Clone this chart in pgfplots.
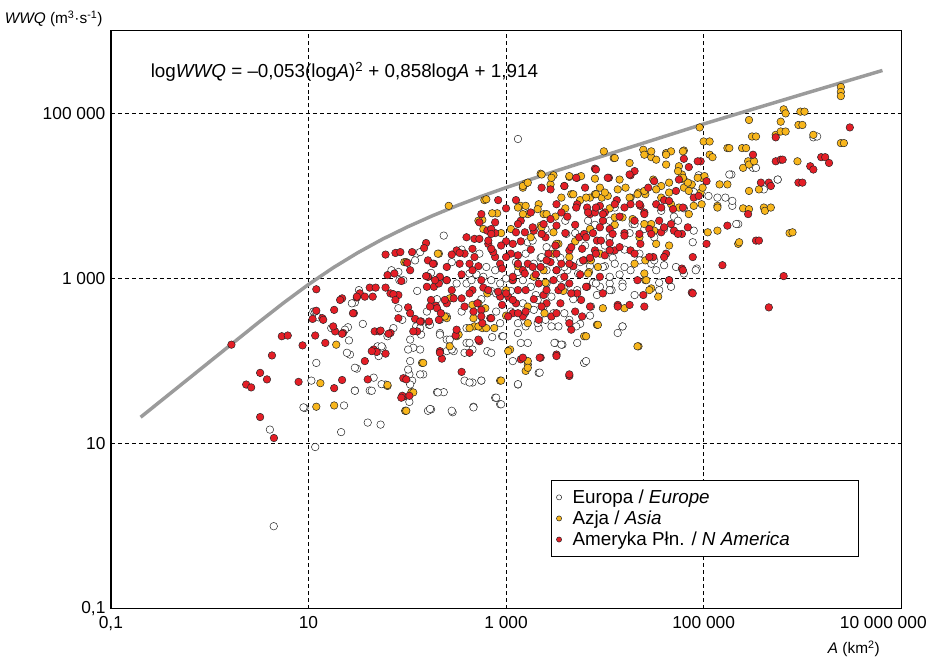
\documentclass[border=0pt]{standalone}
\usepackage{pgfplots}
\pgfplotsset{compat=1.18}
\usetikzlibrary{calc}
\usepackage{fontspec}
\setmainfont{Liberation Sans}
\definecolor{asia}{RGB}{248,182,28}
\definecolor{nam}{RGB}{228,30,38}
\definecolor{curvegray}{RGB}{155,155,155}
\begin{document}
\begin{tikzpicture}
\begin{axis}[name=ax, xmode=log, ymode=log, scale only axis,
  width=794.5bp, height=581bp,
  xmin=0.1, xmax=1e7, ymin=0.1, ymax=1e6,
  xtick={0.1,10,1000,100000,10000000},
  xticklabels={{0,1},10,{1 000},{100 000},{\hspace*{-36bp}10 000 000}},
  ytick={0.1,10,1000,100000},
  yticklabels={{0,1},10,{1 000},{100 000}},
  major tick length=0pt, minor tick length=0pt,
  xmajorgrids, ymajorgrids,
  major grid style={black, line width=0.8bp, dash pattern=on 4bp off 3bp},
  axis line style={line width=1.3bp},
  tick label style={font=\fontsize{17.5}{19}\selectfont},
  xticklabel style={yshift=-4bp},
  yticklabel style={xshift=-2bp},
  legend cell align=left,
  legend style={at={(0.557,0.222)}, anchor=north west, draw=black, line width=0.8bp,
    fill=white, font=\fontsize{19}{21}\selectfont, inner xsep=5bp, inner ysep=7bp, row sep=2bp},
  legend image post style={mark size=2.6bp},
]
\addplot[curvegray, line width=3.5bp, forget plot] coordinates {
(0.2,20.9) (0.631,63.1) (3.16,297) (5.62,509) (10,847) (17.8,1352) (31.6,2056) (56.2,3000) (100,4207) (178,5728) (316,7603) (562,9886) (1000,12620) (3162,20000) (10000,31050) (100000,74470) (1000000,170600) (6460000,331100)
};
% Europe
\addplot[only marks, mark=*, mark size=3.8bp, mark options={fill=white, draw=black!85, line width=0.5bp}] coordinates {
(4.07,14.8) (9.12,27) (10.7,58) (11.7,9.1) (4.45,1.0) (25.7,178) (26.3,120) (17,251) (25.1,257) (29.5,513) (32.4,724) (12,95) (30.9,81) (50.1,151) (56.2,145) (45.7,63) (41.7,44) (29.5,44) (22.9,29) (39.8,18) (53.7,17) (21.4,13.8) (60.3,52) (81.3,437) (83.2,955) (112,58) (105,32) (95.5,25) (81.3,1200) (11.2,398) (12.6,339) (234,3310) (123,2000) (174,1170) (209,955) (251,955) (316,871) (398,871) (537,2000) (631,1380) (776,1260) (871,871) (123,263) (138,209) (166,275) (214,219) (251,182) (295,132) (251,132) (398,166) (457,138) (646,132) (724,195) (871,288) (912,200) (115,145) (105,69) (145,69) (107,52) (174,26) (200,42) (234,42) (288,24) (380,58) (457,55) (562,58) (468,28) (776,36) (871,30) (162,25)
(1320,49000) (1660,2750) (1910,1510) (2570,1260) (3240,1260) (1320,1200) (1480,955) (2570,871) (3890,759) (5250,724) (8910,794) (11200,871) (11700,724) (1480,501) (1910,417) (2400,457) (3020,380) (3890,380) (4370,316) (3390,263) (1580,263) (1320,288) (2140,251) (1170,100) (1410,166) (3160,166) (3720,158) (5250,166) (6170,95) (13500,219) (15100,263) (2140,72) (1320,52) (15100,871) (18200,1260) (11200,3160) (12600,7240) (19100,4570)
(37200,6610) (79400,3800) (85100,1320) (63100,1150) (46800,794) (33100,1260) (29500,1510) (195000,7590) (224000,4570) (316000,21900) (1290000,51300) (562000,15800) (191000,18200) (166000,9550)
(1000,1000) (1120,708) (1260,1580) (1580,2000) (1780,794) (2000,631) (2240,1780) (2820,2240) (3550,1780) (3550,1000) (4170,1260) (4790,562) (5620,1580) (6310,2510) (7080,1410) (7590,891) (8320,631) (10000,1410) (10000,2510) (12000,1780) (14100,1120) (15800,2240) (17800,3550) (22400,2000) (25100,3980) (31600,3160) (39800,3980) (50100,5620) (63100,7080) (79400,11200) (112000,10000) (89100,17800) (5010,3550) (3980,5010) (2510,3980) (7940,4470) (501,1120) (708,708) (355,398) (562,562) (398,251) (794,398) (1120,398) (2510,316) (5620,282) (7080,355) (20000,631) (35500,891) (158,398) (200,562) (89,316) (63,200) (35.5,282) (126,708) (282,1580) (355,2240)
(135,2090) (120,1660) (91.2,955) (69.2,1260) (162,1050) (427,1150) (447,955) (589,1050) (708,955) (794,661) (214,316) (251,347) (170,275) (135,251) (72.4,251) (55,151) (51.3,115) (107,182) (102,138) (135,138) (214,209) (269,182) (282,138) (380,126) (427,166) (708,126) (933,200) (427,55) (562,58) (794,36) (891,30) (468,27.5) (282,25) (170,26.3) (204,41.7) (135,69) (102,79) (107,100) (43.7,43.7) (55,52.5) (29.5,43.7) (29.5,83) (24.5,126) (11.7,398) (23.4,240) (27.5,501) (8.9,27.5)
(1860,2880) (2570,2400) (4070,3470) (6760,5010) (11200,5010) (20000,4570) (55000,5010) (77600,2750) (138000,9550) (195000,8710) (214000,4570) (407000,12000) (562000,15800) (1410000,52500) (339000,21900) (182000,18200) (2290,1820) (3890,1380) (5370,1150) (9550,1380) (12600,1510) (15800,1380) (22400,1660) (31600,1660) (39800,1450) (52500,1380) (83200,1260) (11200,1050) (8130,871) (2880,603) (2090,550) (1550,380) (2090,288) (2880,263) (5130,263) (7240,457) (11200,724) (15100,794) (15100,263) (1320,219) (1660,166) (3090,166) (3630,158) (6460,100) (1320,52.5) (2190,72.4) (35500,724)
};
\addlegendentry{\hspace*{9bp}Europa / \textit{Europe}}
% Asia
\addplot[only marks, mark=*, mark size=3.8bp, mark options={fill=asia, draw=black!85, line width=0.5bp}] coordinates {
(19.1,158) (13.2,54) (12,28) (18.2,29) (63.1,50) (95.5,25) (110,42) (141,95) (93.3,1580) (263,7590) (603,8910) (575,5130) (813,6170) (589,3980) (209,2000) (288,589) (251,331) (316,200) (457,479) (646,661) (617,437) (575,251) (759,251) (479,263) (871,58)
(1480,12600) (1580,14100) (2240,18600) (3020,17800) (2820,13800) (4370,17000) (5250,16600) (7940,16200) (9770,34700) (12300,28800) (1410,7590) (1580,7590) (2140,7940) (2400,6030) (1660,6030) (3020,3630) (2240,4370) (3630,9550) (4570,10500) (7080,9550) (7940,10500) (9330,9550) (8910,12600) (10700,10000) (3020,2000) (3390,2630) (4370,1820) (6170,1660) (6920,1200) (2400,1260) (1910,1050) (1170,955) (1660,457) (8320,275) (6170,200) (1100,138) (1580,76) (1660,91) (21900,151)
(24500,36300) (29500,29500) (33100,27500) (41700,33100) (46800,34700) (63100,35500) (56200,22900) (60300,18200) (63100,15800) (63100,12600) (75900,13800) (70800,11500) (91200,67600) (95500,16600) (102000,17400) (30900,15800) (37200,13200) (44700,14500) (37200,9550) (46800,7940) (56200,7240) (70800,6030) (79400,7590) (93300,11000) (95500,7940) (29500,4570) (19100,5250) (15100,5500) (16200,12600) (18200,9550) (21900,11000) (25700,10500) (33100,2630) (25700,1660) (25700,955) (29500,759) (34700,603) (20000,1510)
(100000,45700) (115000,31600) (123000,29500) (174000,38000) (245000,38000) (251000,21900) (282000,26300) (309000,52500) (288000,83200) (288000,11500) (363000,12000) (251000,7080) (407000,7240) (417000,6610) (224000,2630) (138000,7590) (145000,13800) (174000,13800) (537000,55000) (603000,60300) (603000,79400) (646000,112000) (955000,105000) (912000,72400) (1290000,55000) (891000,26300) (741000,3550) (2450000,209000) (2450000,182000) (2450000,162000) (2450000,43700)
(3160,5620) (3980,7080) (5620,8910) (5010,2820) (7080,3980) (11200,7080) (12600,4470) (14100,15800) (17800,25100) (1780,3160) (1120,3980) (1320,1410) (3800,708) (2510,891) (891,3550) (22400,3160) (44700,2510) (8910,2000) (1000,355)
(97.7,1580) (204,2000) (631,9120) (525,5010) (724,6170) (269,575) (525,501) (468,331) (525,263) (631,251) (427,251) (1000,724) (240,347) (331,209) (269,151) (891,58) (145,95) (115,41.7) (97.7,25) (63.1,51.3)
(1480,13200) (1660,14500) (2290,18200) (2880,16600) (4370,17400) (5750,17400) (4790,10500) (6460,9550) (8130,10500) (10000,11000) (13500,12000) (17800,9550) (21400,10500) (25100,11500) (33100,12000) (44700,11000) (69200,14500) (87100,16600) (97700,12600) (25100,31600) (29500,34700) (41700,31600) (61700,34700) (41700,24000) (55000,20000) (61700,16600) (12600,28800) (115000,45700) (182000,38000) (269000,38000) (288000,24000) (324000,26300) (339000,52500) (676000,100000) (1050000,105000) (1000000,72400) (676000,60300) (2630000,43700) (794000,3630) (229000,2750) (288000,6920) (479000,7240) (138000,3800) (110000,3630) (138000,7240) (1320,7240) (1480,6030) (2090,6920) (2570,6030) (2290,4170) (12600,5500) (25100,4570) (31600,3800) (3240,2630) (7240,1660) (8510,1380) (6760,1150) (25100,1150) (26300,955) (28200,724) (9550,437) (15800,437) (6460,200) (8510,275) (2450,380) (1660,288) (21400,151) (1660,100) (1660,83) (1050,132)
};
\addlegendentry{\hspace*{9bp}Azja / \textit{Asia}}
% North America
\addplot[only marks, mark=*, mark size=3.8bp, mark options={fill=nam, draw=black!85, line width=0.5bp}] coordinates {
(1.66,158) (2.34,52) (2.63,48) (3.24,72) (3.8,60) (4.27,117) (5.37,200) (6.17,204) (8.71,155) (7.94,56) (3.24,21) (4.47,11.7)
(12,741) (12,407) (11,324) (13.8,331) (11.7,204) (14.8,166) (18.2,417) (21.9,575) (22.4,219) (18.6,229) (28.8,380) (30.9,589) (33.1,661) (37.2,603) (44.7,603) (41.7,776) (47.9,776) (60.3,1950) (75.9,2040) (85.1,2090) (112,2090) (63.1,1100) (74.1,1150) (67.6,661) (81.3,631) (60.3,776) (81.3,331) (46.8,229) (52.5,229) (67.6,219) (45.7,138) (49,129) (60.3,123) (37.2,100) (39.8,60) (21.9,59) (18.2,47) (91.2,62) (91.2,37) (105,38) (100,1550) (107,1260) (87,933)
(155,2690) (162,1660) (186,1510) (162,1050) (186,794) (209,871) (214,1050) (251,1380) (316,2190) (380,2000) (457,2290) (339,1510) (427,1510) (457,1260) (562,955) (589,776) (776,1820) (871,1510) (912,1320) (479,3020) (537,3020) (661,2630) (776,3550) (741,2090) (562,6030) (537,4790) (646,3800) (776,4790) (174,550) (195,468) (166,302) (209,316) (251,501) (295,575) (282,724) (355,575) (457,724) (513,501) (562,417) (692,331) (871,603) (912,479) (120,324) (138,302) (126,229) (214,132) (224,107) (309,204) (316,240) (355,74) (537,174) (575,288) (89,38)
(1260,3630) (1170,2630) (1660,1510) (1480,1260) (1170,955) (1320,724) (1260,501) (1170,380) (1480,347) (2140,316) (2570,501) (2880,347) (3390,724) (3890,1050) (3630,1510) (4370,2190) (5500,3160) (6170,3470) (5890,2290) (7940,2190) (8320,2880) (8910,4170) (7080,6030) (7940,6310) (10000,6310) (3890,13200) (7940,21400) (11000,16600) (2690,2000) (2240,1380) (3020,955) (4370,871) (5250,661) (6610,794) (8910,1050) (5890,347) (4570,240) (3240,120) (4370,66) (1410,105) (2240,110) (2140,871) (1910,3800) (2400,4570) (3240,7940) (5250,7940) (6610,7240) (1320,1910) (1050,603) (13500,479) (10000,1910) (11200,2690) (12600,2190) (7080,457) (2400,631) (1580,724)
(18200,17800) (27500,12600) (33100,7940) (18200,7940) (22900,7590) (52500,11500) (79400,9550) (93300,26300) (63100,28200) (46800,4570) (60300,3470) (50100,3800) (37200,3630) (22900,2630) (30900,1820) (41700,2000) (44700,955) (60300,1320) (24500,631) (75900,676) (18200,2190)
(107000,15100) (174000,4370) (107000,2630) (155000,1450) (339000,2880) (282000,6030) (316000,31600) (537000,51300) (537000,26300) (603000,27500) (380000,14500) (457000,14500) (912000,14500) (646000,1070) (457000,447) (1200000,22900) (1290000,20900) (1550000,29500) (1700000,29500) (1860000,25100) (3020000,67600)
(1120,2000) (1410,2820) (1780,2240) (2000,1120) (2820,1580) (3160,2510) (3980,3550) (5010,4470) (4790,1410) (5620,1120) (7080,1780) (7590,3550) (9550,5010) (11200,3980) (14100,5620) (15800,3550) (20000,5010) (25100,6310) (28200,3980) (35500,5010) (39800,8910) (13200,8910) (8910,7590) (4170,5620) (2820,5250) (1780,6310) (1410,5010) (2510,3160) (1910,562) (3550,501) (5010,398) (1580,398) (1000,2820) (891,2510) (398,3160) (355,1120) (158,794) (708,3980) (1260,8910) (2820,12000) (1000,7080) (832,8910) (56200,15800) (70800,22400) (89100,10000) (6310,12600) (20000,20000)
(148,2340) (282,1950) (339,2040) (479,1820) (661,2880) (708,2290) (525,1410) (182,1510) (155,1070) (191,955) (251,955) (427,661) (661,724) (832,692) (72.4,646) (75.9,550) (30.9,603) (20.9,550) (28.2,380) (14.1,316) (17.8,263) (21.9,214) (53.7,234) (64.6,214) (43.7,132) (102,447) (107,380) (135,302) (115,229) (170,457) (200,437) (219,380) (240,550) (380,457) (468,398) (562,347) (708,331) (525,182) (427,126) (214,126) (97.7,60) (87,36) (1000,661) (1170,550) (1050,347) (1320,380) (1170,1050) (1320,1510) (1000,1820) (708,3470)
(2290,12600) (3890,13200) (5130,16600) (8130,20900) (10700,16600) (17800,18200) (31600,15100) (87100,26300) (1320,4570) (1550,3630) (1860,4170) (2290,3470) (3240,4370) (3630,6310) (5130,7240) (6760,6310) (8130,7240) (9550,6030) (12600,7940) (15800,7240) (22400,7940) (25100,6030) (37200,7240) (44700,8710) (49000,6920) (61700,7240) (69200,4170) (55000,3470) (39800,4170) (29500,3470) (22400,3470) (15800,3310) (12000,3470) (9120,2880) (6460,3160) (4570,2400) (3240,2000) (2570,1660) (1860,1380) (1550,1150) (3240,1260) (4370,1510) (6030,1660) (8130,2000) (11200,2190) (14100,2400) (20000,2000) (28200,1820) (39800,1820) (61700,1260) (77600,1820) (44700,955) (25100,457) (77600,661) (363000,2880) (479000,13200) (1000000,14500) (631000,27500) (2570,724) (3630,794) (4570,661) (5750,550) (2290,457) (3240,380) (4370,288) (6460,794) (9550,661) (13500,457) (17800,479) (21400,955) (3240,115) (2190,110) (4370,69) (1480,110)
};
\addlegendentry{\hspace*{9bp}Ameryka Płn. / \textit{N America}\hspace*{62bp}}
\node[anchor=west, font=\fontsize{19}{21}\selectfont] at (rel axis cs:0.046,0.929)
  {log\textit{WWQ} = –0,053(log\textit{A})\textsuperscript{2} + 0,858log\textit{A} + 1,914};
\end{axis}
\node[anchor=base east, xshift=-5bp, yshift=7bp, font=\fontsize{15.5}{17}\selectfont] at (ax.north west)
  {\textit{WWQ} (m\textsuperscript{3}·s\textsuperscript{-1})};
\node[anchor=base, yshift=-45bp, font=\fontsize{15.5}{17}\selectfont] at ($(ax.south west)!0.94!(ax.south east)$)
  {\textit{A} (km\textsuperscript{2})};
\path (ax.south west) ++(-111.5bp,-50bp) rectangle ++(930bp,662bp);
\end{tikzpicture}
\end{document}
